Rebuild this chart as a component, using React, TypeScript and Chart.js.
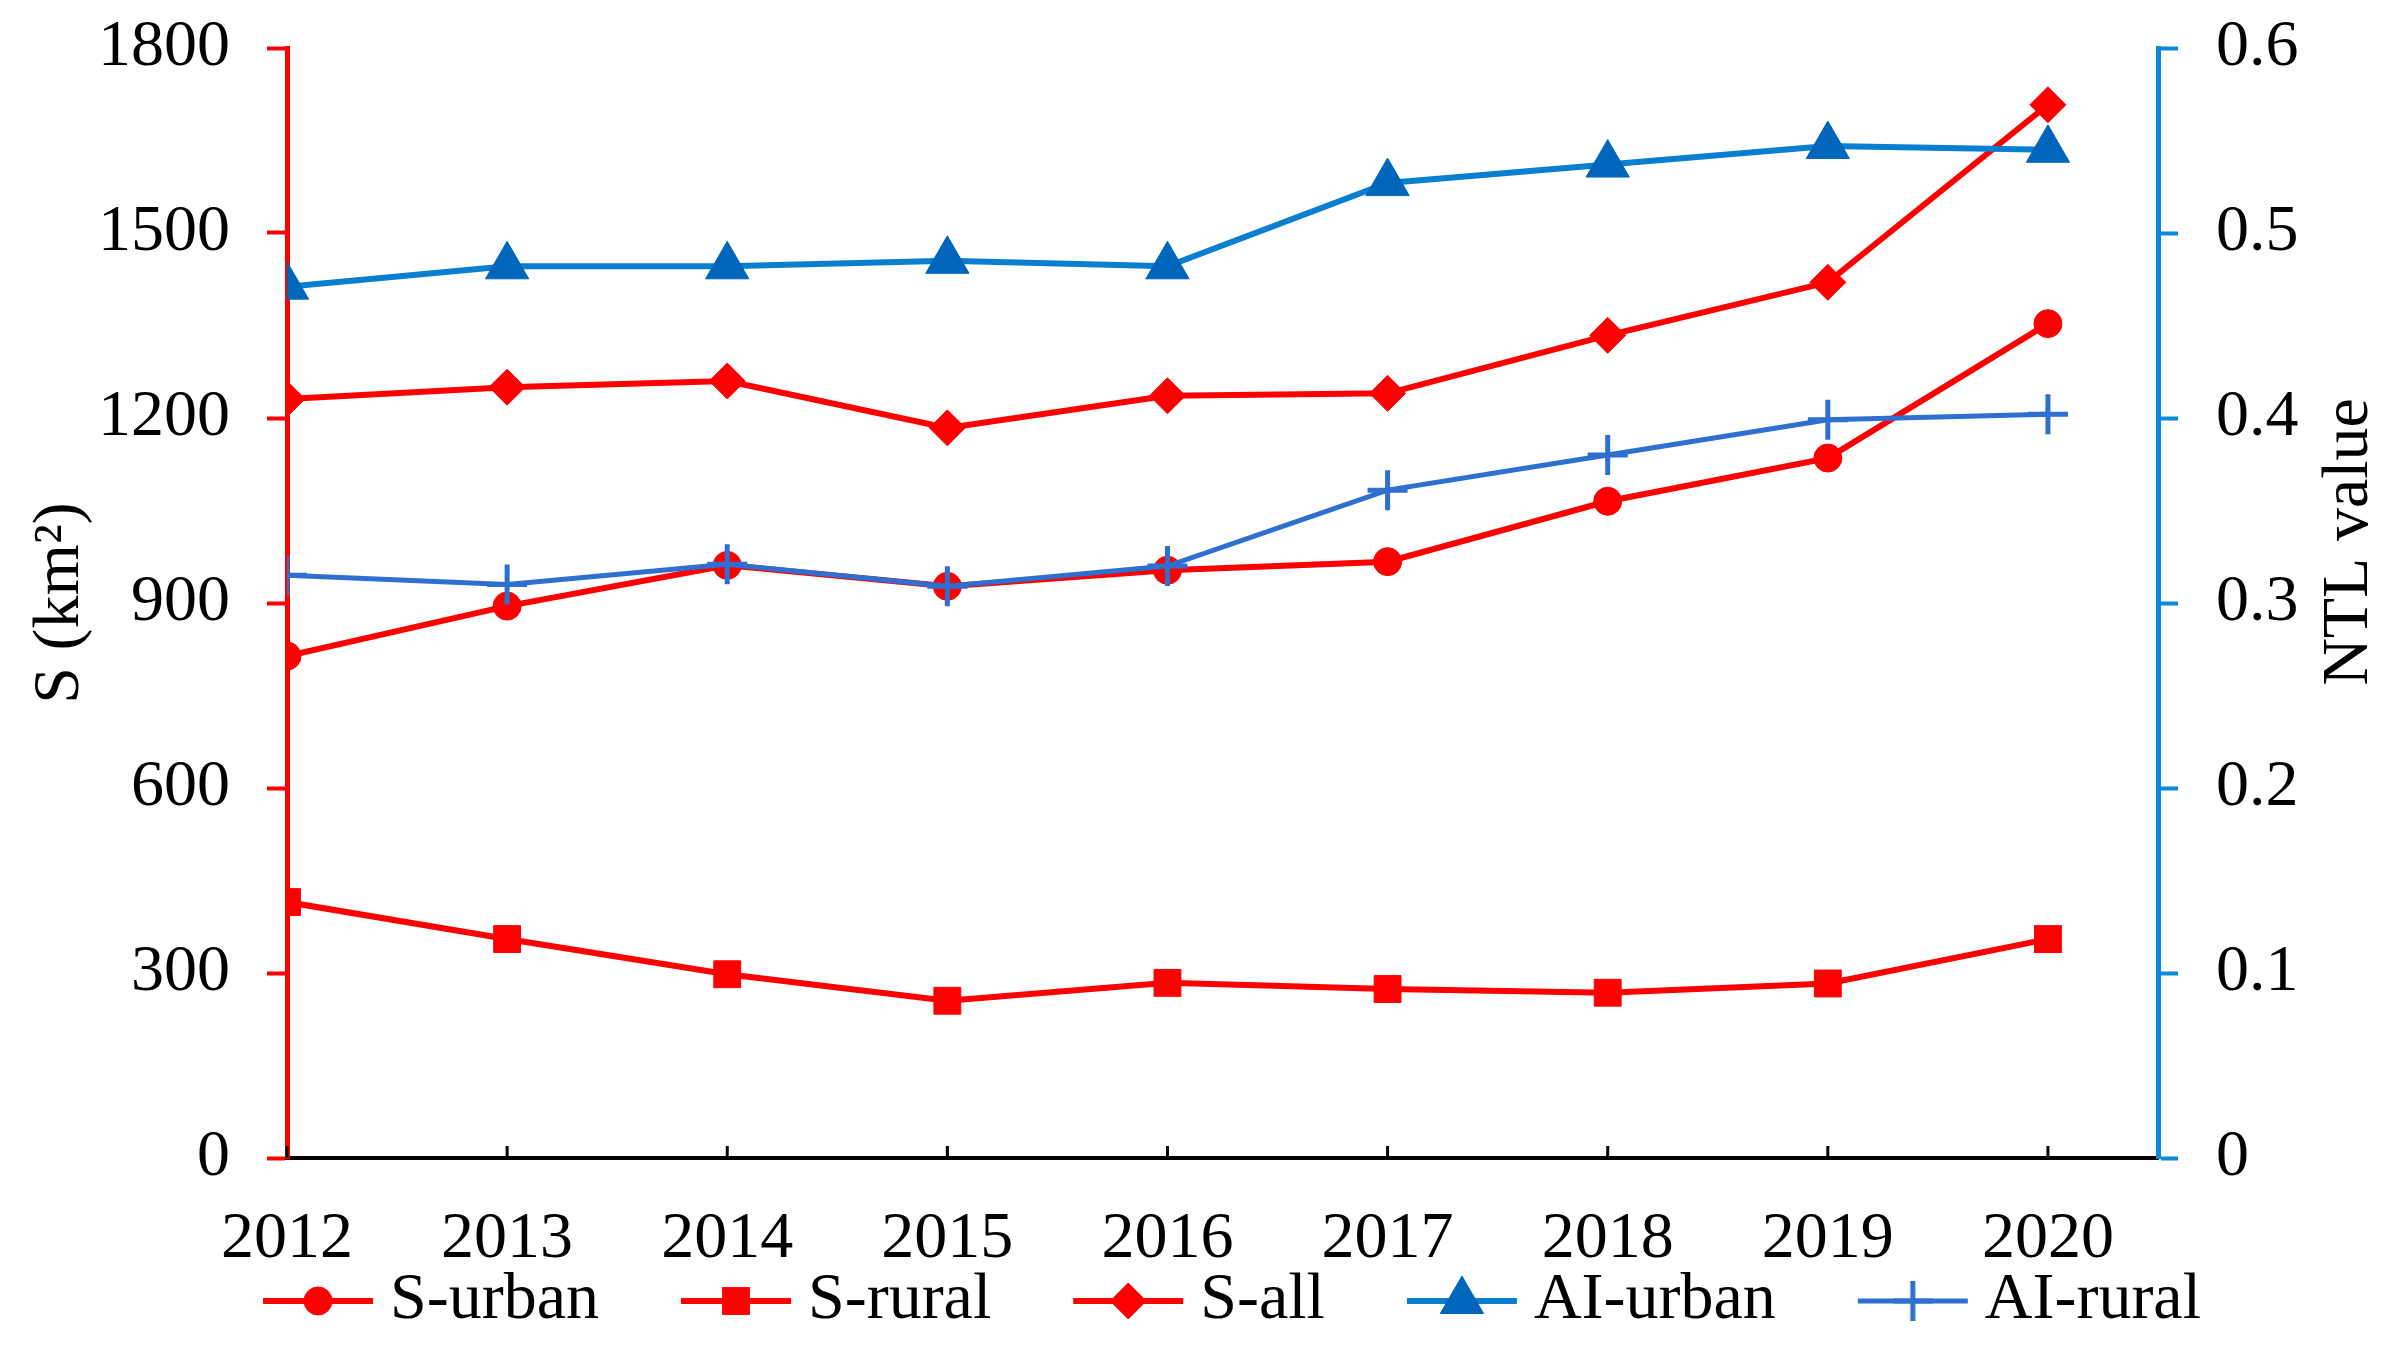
import React, { useEffect, useRef } from 'react';
import { Chart, registerables } from 'chart.js';
import { drawPoint } from 'chart.js/helpers';

Chart.register(...registerables);

const years = [2012, 2013, 2014, 2015, 2016, 2017, 2018, 2019, 2020];
const sUrban = [814, 895, 961, 927, 953, 967, 1065, 1135, 1353];
const sRural = [415, 355, 298, 255, 284, 274, 268, 283, 355];
const sAll = [1231, 1250, 1260, 1184, 1236, 1240, 1334, 1420, 1708];
const aiUrban = [0.471, 0.482, 0.482, 0.485, 0.482, 0.527, 0.537, 0.547, 0.545];
const aiRural = [0.315, 0.31, 0.321, 0.309, 0.32, 0.361, 0.38, 0.399, 0.402];
const seriesLabels = ['S-urban', 'S-rural', 'S-all', 'AI-urban', 'AI-rural'];
const leftTitle = 'S (km²)';
const rightTitle = 'NTL value';

const FONT = '"Liberation Serif", "Times New Roman", serif';
const RED = '#FF0000';
const BLUE_AXIS = '#0A8AD8';
const BLUE_LINE = '#0A7ECF';
const BLUE_MARK = '#0066BB';
const BLUE_RURAL = '#2E6FD0';

type Style = { line: string; mark: string; point: string; radius: number; lw: number; bw: number };
const styles: Style[] = [
  { line: RED, mark: RED, point: 'circle', radius: 14, lw: 6, bw: 1 },
  { line: RED, mark: RED, point: 'rect', radius: 19, lw: 6, bw: 1 },
  { line: RED, mark: RED, point: 'rectRot', radius: 18, lw: 6, bw: 1 },
  { line: BLUE_LINE, mark: BLUE_MARK, point: 'triangle', radius: 25, lw: 6, bw: 1 },
  { line: BLUE_RURAL, mark: BLUE_RURAL, point: 'cross', radius: 20, lw: 5, bw: 5 },
];

function legendImage(s: Style): HTMLCanvasElement {
  const c = document.createElement('canvas');
  c.width = 202;
  c.height = 56;
  const ctx = c.getContext('2d') as CanvasRenderingContext2D;
  ctx.strokeStyle = s.line;
  ctx.lineWidth = s.lw;
  ctx.beginPath();
  ctx.moveTo(90, 28);
  ctx.lineTo(200, 28);
  ctx.stroke();
  ctx.fillStyle = s.mark;
  ctx.strokeStyle = s.mark;
  ctx.lineWidth = s.bw;
  drawPoint(ctx, { pointStyle: s.point as any, radius: s.radius, borderWidth: s.bw, rotation: 0 } as any, 145, 28);
  return c;
}

const extras = {
  id: 'extras',
  beforeDatasetsDraw(chart: any) {
    const { ctx, chartArea, scales } = chart;
    ctx.save();
    ctx.strokeStyle = '#000';
    ctx.lineWidth = 3;
    years.forEach((yr) => {
      const px = scales.x.getPixelForValue(yr);
      ctx.beginPath();
      ctx.moveTo(px, chartArea.bottom);
      ctx.lineTo(px, chartArea.bottom - 12);
      ctx.stroke();
    });
    ctx.restore();
  },
  afterDraw(chart: any) {
    const { ctx, scales } = chart;
    const r = scales.y1;
    ctx.save();
    ctx.translate(r.right - 42, 542);
    ctx.rotate(-Math.PI / 2);
    ctx.font = `66px ${FONT}`;
    ctx.textAlign = 'center';
    ctx.textBaseline = 'middle';
    ctx.fillStyle = '#000';
    ctx.fillText(rightTitle, 0, 0);
    ctx.restore();
  },
};

export default function App() {
  const ref = useRef<HTMLCanvasElement | null>(null);

  useEffect(() => {
    if (!ref.current) return;
    const values = [sUrban, sRural, sAll, aiUrban, aiRural];
    const axisIds = ['y', 'y', 'y', 'y1', 'y1'];
    const orders = [4, 3, 2, 1, 0];
    const imgs = styles.map(legendImage);
    const datasets = values.map((vals, i) => ({
      label: seriesLabels[i],
      data: vals.map((v, j) => ({ x: years[j], y: v })),
      yAxisID: axisIds[i],
      order: orders[i],
      borderColor: styles[i].line,
      backgroundColor: styles[i].mark,
      borderWidth: styles[i].lw,
      pointStyle: styles[i].point as any,
      pointRadius: styles[i].radius,
      pointBackgroundColor: styles[i].mark,
      pointBorderColor: styles[i].mark,
      pointBorderWidth: styles[i].bw,
      tension: 0,
      fill: false,
    }));
    const tickFont = { size: 66, family: FONT };
    const chart = new Chart(ref.current, {
      type: 'line',
      data: { datasets },
      plugins: [extras],
      options: {
        animation: false,
        responsive: true,
        maintainAspectRatio: false,
        layout: { padding: { top: 48, bottom: 6, left: 0, right: 0 } },
        plugins: {
          tooltip: { enabled: false },
          legend: {
            position: 'bottom',
            labels: {
              usePointStyle: true,
              pointStyleWidth: 166,
              padding: 10,
              color: '#000',
              font: { size: 66, family: FONT },
              generateLabels: (ch: any) =>
                ch.data.datasets.map((ds: any, i: number) => ({
                  text: ds.label,
                  fillStyle: styles[i].mark,
                  strokeStyle: styles[i].mark,
                  lineWidth: 0,
                  pointStyle: imgs[i],
                  hidden: false,
                  datasetIndex: i,
                  fontColor: '#000',
                })),
            },
          },
        },
        scales: {
          x: {
            type: 'linear',
            min: 2012,
            max: 2020.5,
            afterBuildTicks: (s: any) => {
              s.ticks = years.map((v) => ({ value: v }));
            },
            afterFit: (s: any) => {
              s.height = 100;
            },
            grid: { display: true, drawOnChartArea: false, drawTicks: false },
            border: { display: true, color: '#000', width: 4 },
            ticks: {
              font: tickFont,
              color: '#000',
              padding: 42,
              maxRotation: 0,
              autoSkip: false,
              callback: (v: any) => String(v),
            },
          },
          y: {
            type: 'linear',
            position: 'left',
            min: 0,
            max: 1800,
            afterFit: (s: any) => {
              s.width = 287;
              s.paddingTop = 0;
              s.paddingBottom = 0;
            },
            grid: { drawOnChartArea: false, drawTicks: true, tickLength: 20, tickWidth: 4, tickColor: RED },
            border: { display: true, color: RED, width: 5 },
            ticks: {
              stepSize: 300,
              font: tickFont,
              color: '#000',
              padding: 37,
              callback: (v: any) => String(v),
            },
            title: {
              display: true,
              text: leftTitle,
              color: '#000',
              font: { size: 66, family: FONT },
              padding: { top: 21, bottom: 0 },
            },
          },
          y1: {
            type: 'linear',
            position: 'right',
            min: 0,
            max: 0.6,
            afterFit: (s: any) => {
              s.width = 234;
              s.paddingTop = 0;
              s.paddingBottom = 0;
            },
            grid: { drawOnChartArea: false, drawTicks: true, tickLength: 20, tickWidth: 4, tickColor: BLUE_AXIS },
            border: { display: true, color: BLUE_AXIS, width: 5 },
            ticks: {
              stepSize: 0.1,
              font: tickFont,
              color: '#000',
              padding: 38,
              callback: (v: any) => (Math.abs(v) < 1e-9 ? '0' : Number(v).toFixed(1)),
            },
          },
        },
      } as any,
    });
    return () => chart.destroy();
  }, []);

  return (
    <div style={{ position: 'absolute', left: 0, top: 0, width: 2392, height: 1350, background: '#fff' }}>
      <canvas ref={ref} />
    </div>
  );
}
